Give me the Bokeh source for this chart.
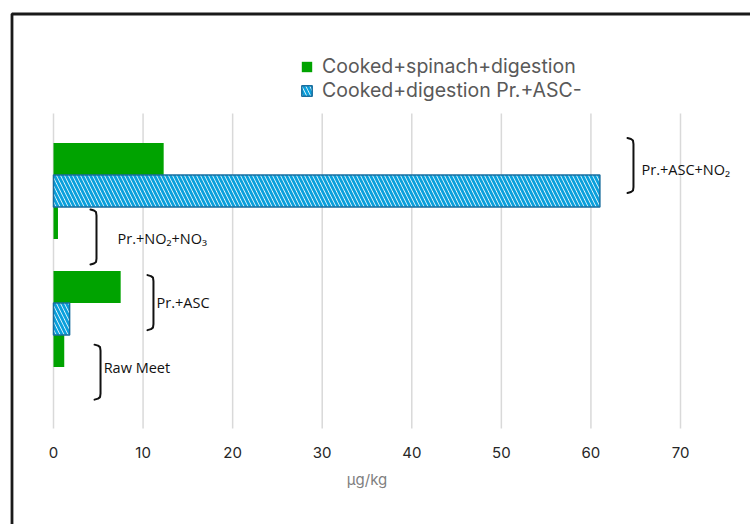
from bokeh.plotting import figure
from bokeh.models import (Range1d, FixedTicker, ColumnDataSource, Legend, LegendItem,
                          BoxAnnotation, LinearAxis)
from bokeh.core.properties import value
from bokeh.embed import file_html
from bokeh.resources import INLINE

# ---------------- data ----------------
categories = ["Raw Meet", "Pr.+ASC", "Pr.+NO2+NO3", "Pr.+ASC+NO2"]
spinach_digestion = [1.2, 7.5, 0.5, 12.3]      # Cooked+spinach+digestion
digestion_pr_asc = [0.0, 1.8, 0.0, 61.0]       # Cooked+digestion Pr.+ASC-
x_ticks = [0, 10, 20, 30, 40, 50, 60, 70]
series_names = ["Cooked+spinach+digestion", "Cooked+digestion Pr.+ASC-"]
bracket_labels = ["Raw Meet", "Pr.+ASC", "Pr.+NO₂+NO₃", "Pr.+ASC+NO₂"]
x_title = "µg/kg"

# ---------------- annotation placement (data units) ----------------
bracket_x = [5.25, 11.16, 4.80, 64.75]
bracket_dy = [-0.08, 0.006, 0.03, 0.147]
label_x = [5.6, 11.5, 7.15, 65.65]
label_dy = [-0.01, 0.006, 0.007, 0.08]

GREEN = "#00a300"
BLUE = "#0aa0dc"
BLUE_EDGE = "#1a6e9e"

W, H = 750, 524
# plot area (0..70, -0.96..3.96) sits at px 53..680 / 113..428 of the canvas
PXX = 70 / 627.0
PXY = 4.92 / 315.0
x0, x1 = 0 - 53 * PXX, 70 + (W - 680) * PXX
y0, y1 = -0.96 - (H - 428) * PXY, 3.96 + 113 * PXY

p = figure(width=W, height=H, output_backend="svg", toolbar_location=None,
           x_range=Range1d(x0, x1), y_range=Range1d(y0, y1),
           min_border=0, x_axis_location=None, y_axis_location=None)
p.outline_line_color = None
p.background_fill_color = "white"
p.border_fill_color = "white"
p.xgrid.visible = False
p.ygrid.visible = False

ypos = list(range(len(categories)))
bar_h = 0.5

# vertical gridlines at the tick values, spanning the value area
p.segment(x0=x_ticks, x1=x_ticks, y0=[-0.96] * len(x_ticks), y1=[3.96] * len(x_ticks),
          line_color="#d9d9d9", line_width=1.5)

g_src = ColumnDataSource(dict(
    y=[y + bar_h / 2 for y, v in zip(ypos, spinach_digestion) if v > 0],
    v=[v for v in spinach_digestion if v > 0]))
h_src = ColumnDataSource(dict(
    y=[y - bar_h / 2 for y, v in zip(ypos, digestion_pr_asc) if v > 0],
    v=[v for v in digestion_pr_asc if v > 0]))

r_g = p.hbar(y="y", left=0, right="v", height=bar_h, source=g_src,
             fill_color=GREEN, line_color=None)
r_h = p.hbar(y="y", left=0, right="v", height=bar_h, source=h_src,
             fill_color="white", line_color=BLUE_EDGE, line_width=1.5,
             hatch_pattern="\\", hatch_color=BLUE, hatch_scale=8, hatch_weight=2.8)

# x axis
ax = LinearAxis(fixed_location=-0.96, bounds=(0, 70), ticker=FixedTicker(ticks=x_ticks))
ax.axis_line_color = None
ax.major_tick_line_color = None
ax.minor_tick_line_color = None
ax.major_label_standoff = 12
ax.major_label_text_font = "Inter"
ax.major_label_text_font_size = "15px"
ax.major_label_text_color = "#262626"
ax.axis_label = x_title
ax.axis_label_text_font = "Inter"
ax.axis_label_text_font_style = "normal"
ax.axis_label_text_font_size = "15px"
ax.axis_label_text_color = "#7f7f7f"
ax.axis_label_standoff = 9
p.add_layout(ax, "below")

# brackets
half = 27.5 * PXY
xs, ys = [], []
for i, c in enumerate(ypos):
    bx = bracket_x[i]
    cy = c + bracket_dy[i]
    top, bot = cy + half, cy - half
    xs.append([bx - 6 * PXX, bx - 2.5 * PXX, bx - 0.5 * PXX, bx, bx,
               bx - 0.5 * PXX, bx - 2.5 * PXX, bx - 6 * PXX])
    ys.append([top, top - 1 * PXY, top - 2.5 * PXY, top - 6 * PXY, bot + 6 * PXY,
               bot + 2.5 * PXY, bot + 1 * PXY, bot])
p.multi_line(xs=xs, ys=ys, line_color="#111111", line_width=2, line_join="round",
             line_cap="round")

p.text(x=label_x, y=[c + d for c, d in zip(ypos, label_dy)], text=bracket_labels,
       text_font=value("Open Sans"), text_font_size="14.5px", text_color="#111111",
       text_baseline="middle", text_align="left")

# legend
legend = Legend(items=[LegendItem(label=series_names[0], renderers=[r_g]),
                       LegendItem(label=series_names[1], renderers=[r_h])],
                location=(300, 422), orientation="vertical",
                glyph_width=13, glyph_height=13, label_standoff=9,
                label_text_font="Inter", label_text_font_size="19.5px",
                label_text_color="#595959", label_height=20, spacing=0,
                padding=0, margin=0, border_line_alpha=0,
                background_fill_alpha=0)
p.add_layout(legend, "center")

# outer frame line
p.add_layout(BoxAnnotation(left=11.5, right=W + 20, top=13.5, bottom=H + 20,
                           left_units="canvas", right_units="canvas",
                           top_units="canvas", bottom_units="canvas",
                           fill_alpha=0, line_color="#1a1a1a", line_alpha=1.0,
                           line_width=2.8, level="overlay"))

open("out.html", "w").write(file_html(p, INLINE))
